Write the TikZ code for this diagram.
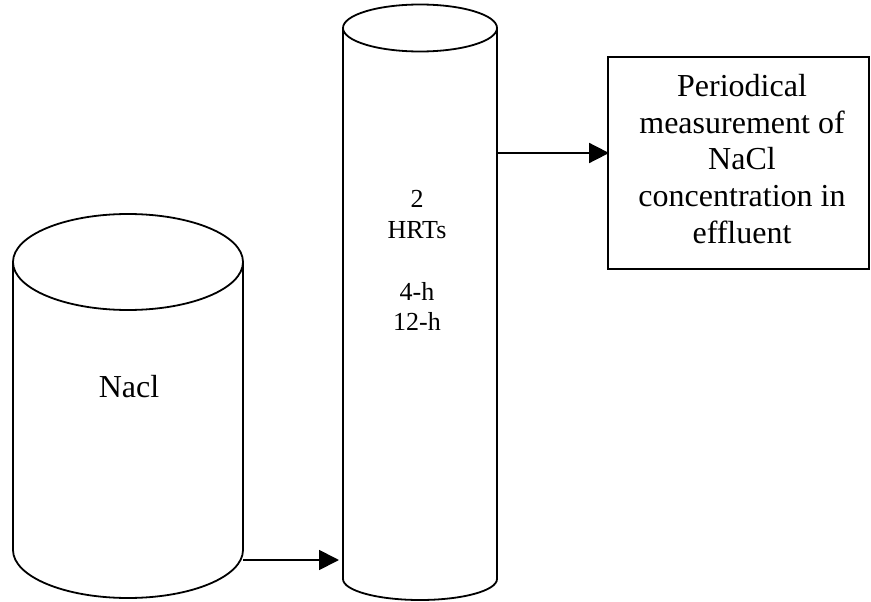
\documentclass[tikz,border=0pt]{standalone}
\usepackage{fontspec}
\setmainfont{Liberation Serif}
\usetikzlibrary{arrows.meta}
\begin{document}
\begin{tikzpicture}[x=1pt,y=-1pt,
  outline/.style={line width=1.8pt, draw=black},
  flow/.style={line width=1.8pt, -{Triangle[length=20pt,width=20pt]}},
  bigtext/.style={font=\fontsize{32}{36.6}\selectfont, anchor=base, inner sep=0pt},
  smalltext/.style={font=\fontsize{26}{30.5}\selectfont, anchor=base, inner sep=0pt}]
\useasboundingbox (0,0) rectangle (871,602);

% salt tank
\draw[outline] (128,262) ellipse [x radius=115, y radius=48];
\draw[outline] (13,262) -- (13,550)
  arc[start angle=180, end angle=0, x radius=115, y radius=48] -- (243,262);
\node[bigtext] (tanklabel) at (129,397) {Nacl};

% tall column
\draw[outline] (420,28) ellipse [x radius=77, y radius=23.5];
\draw[outline] (343,28) -- (343,579)
  arc[start angle=180, end angle=0, x radius=77, y radius=21] -- (497,28);
\node[smalltext] (col1) at (417,207) {2};
\node[smalltext] (col2) at (417,238) {HRTs};
\node[smalltext] (col3) at (417,300) {4-h};
\node[smalltext] (col4) at (417,330) {12-h};

% measurement box
\node[outline, minimum width=261pt, minimum height=212pt, inner sep=0pt] (meas) at (738.5,163) {};
\node[bigtext] (m1) at (742,96.7) {Periodical};
\node[bigtext] (m2) at (742,133.3) {measurement of};
\node[bigtext] (m3) at (742,169.9) {NaCl};
\node[bigtext] (m4) at (742,206.5) {concentration in};
\node[bigtext] (m5) at (742,243.1) {effluent};

% connectors
\coordinate (tankout) at (243,560);
\coordinate (colin) at (339,560);
\coordinate (colout) at (497,153);
\draw[flow] (tankout) -- (colin);
\draw[flow] (colout) -- ([xshift=2pt]meas.west |- colout);
\end{tikzpicture}
\end{document}
